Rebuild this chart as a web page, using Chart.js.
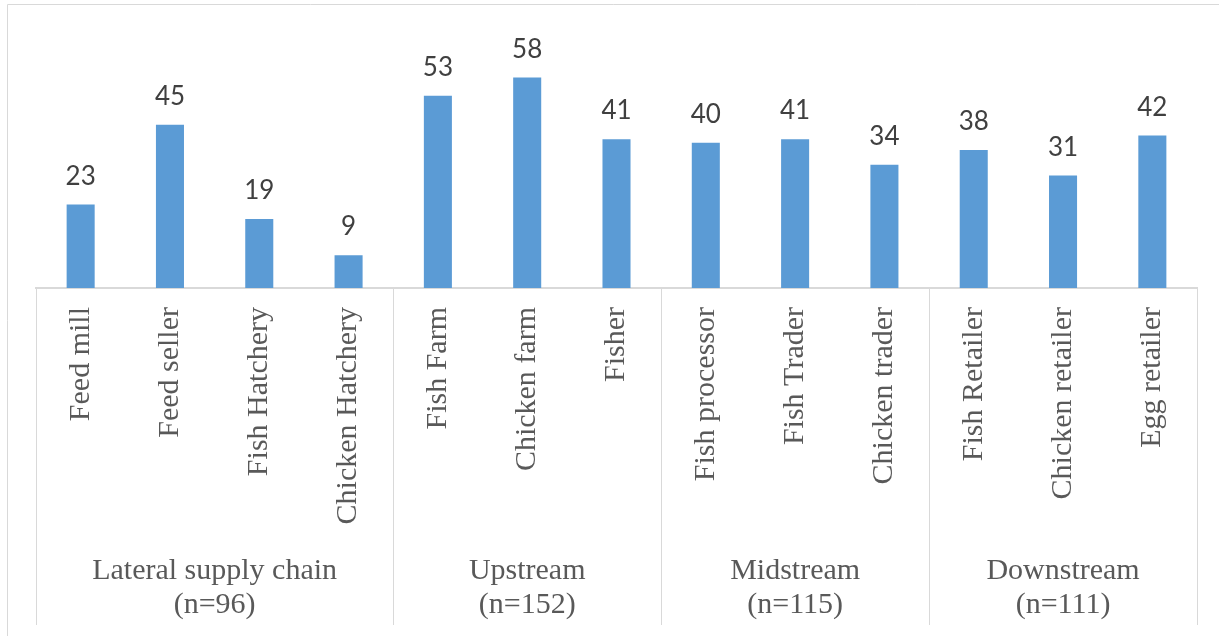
<!DOCTYPE html>
<html>
<head>
<meta charset="utf-8">
<script src="https://cdn.jsdelivr.net/npm/chart.js@4"></script>
<style>
    body { margin: 0; background: #fff; }
    canvas { display: block; }
</style>
</head>
<body>
<canvas id="canvas" width="1219" height="636"></canvas>
<script>
// data
const categories = ['Feed mill', 'Feed seller', 'Fish Hatchery', 'Chicken Hatchery',
    'Fish Farm', 'Chicken farm', 'Fisher',
    'Fish processor', 'Fish Trader', 'Chicken trader',
    'Fish Retailer', 'Chicken retailer', 'Egg retailer']
const values = [23, 45, 19, 9, 53, 58, 41, 40, 41, 34, 38, 31, 42]
const groupNames = ['Lateral supply chain', 'Upstream', 'Midstream', 'Downstream']
const groupCounts = ['(n=96)', '(n=152)', '(n=115)', '(n=111)']
const groupSizes = [4, 3, 3, 3]

const lineGray = '#d9d9d9'
const textGray = '#595959'
const serif = '"Liberation Serif", "DejaVu Serif", serif'

// frame round the whole chart (only left and top show in the crop)
const framePlugin = {
    id: 'frame',
    beforeDraw(chart) {
        let ctx = chart.ctx
        ctx.save()
        ctx.strokeStyle = lineGray
        ctx.lineWidth = 1
        ctx.beginPath()
        ctx.moveTo(7.5, chart.height)
        ctx.lineTo(7.5, 4.5)
        ctx.lineTo(chart.width, 4.5)
        ctx.stroke()
        ctx.restore()
    }
}

// group separators + group names under the rotated labels
const groupPlugin = {
    id: 'groups',
    afterDraw(chart) {
        let ctx = chart.ctx
        let x = chart.scales.x
        let bottom = chart.chartArea.bottom
        ctx.save()
        ctx.strokeStyle = lineGray
        ctx.lineWidth = 1
        let start = 0
        let edges = [start]
        groupSizes.forEach(function(n) {
            start += n
            edges.push(start)
        })
        edges.forEach(function(e) {
            let px = Math.round(x.getPixelForValue(e - 0.5)) + 0.5
            ctx.beginPath()
            ctx.moveTo(px, bottom)
            ctx.lineTo(px, bottom + 337)
            ctx.stroke()
        })
        ctx.fillStyle = textGray
        ctx.font = '30px ' + serif
        ctx.textAlign = 'center'
        ctx.textBaseline = 'alphabetic'
        for (let g = 0; g < groupNames.length; g++) {
            let left = x.getPixelForValue(edges[g] - 0.5)
            let right = x.getPixelForValue(edges[g + 1] - 0.5)
            let cx = (left + right) / 2
            ctx.fillText(groupNames[g], cx, bottom + 291)
            ctx.fillText(groupCounts[g], cx, bottom + 325)
        }
        ctx.restore()
    }
}

// value labels above the bars
const valuePlugin = {
    id: 'values',
    afterDatasetsDraw(chart) {
        let ctx = chart.ctx
        let meta = chart.getDatasetMeta(0)
        ctx.save()
        ctx.fillStyle = '#404040'
        ctx.font = '26px Lato, "Open Sans", sans-serif'
        ctx.textAlign = 'center'
        ctx.textBaseline = 'alphabetic'
        meta.data.forEach(function(bar, i) {
            ctx.fillText(values[i], bar.x, bar.y - 20)
        })
        ctx.restore()
    }
}

var config = {
    type: 'bar',
    data: {
        labels: categories,
        datasets: [{
            data: values,
            backgroundColor: '#5b9bd5',
            borderWidth: 0,
            categoryPercentage: 1,
            barPercentage: 0.314
        }]
    },
    options: {
        responsive: false,
        animation: false,
        layout: {
            padding: { left: 36, right: 22, top: 34, bottom: 0 }
        },
        scales: {
            x: {
                grid: { display: false, drawTicks: false },
                border: { display: true, color: lineGray, width: 2 },
                ticks: {
                    minRotation: 90,
                    maxRotation: 90,
                    autoSkip: false,
                    padding: 19,
                    color: textGray,
                    font: { family: serif, size: 30 }
                },
                afterFit(scale) {
                    scale.height = 348
                }
            },
            y: {
                display: false,
                min: 0,
                max: 70
            }
        },
        plugins: {
            legend: { display: false },
            tooltip: { enabled: false }
        }
    },
    plugins: [framePlugin, groupPlugin, valuePlugin]
};

var ctx = document.getElementById('canvas').getContext('2d');
window.myChart = new Chart(ctx, config);
</script>
</body>
</html>
